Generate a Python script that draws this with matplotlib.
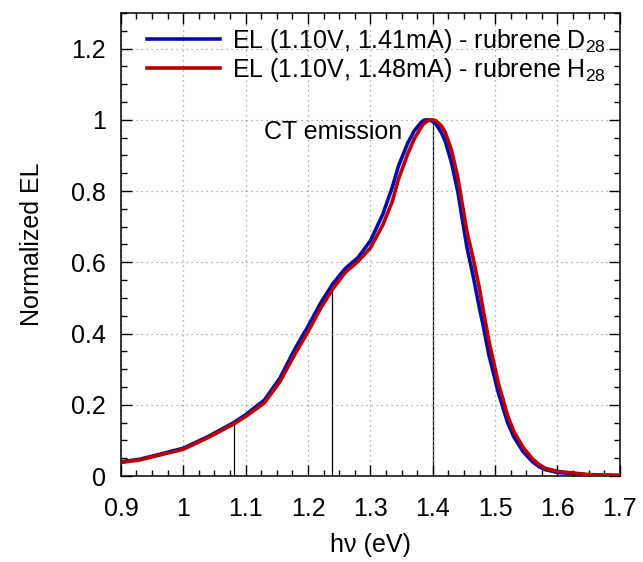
import matplotlib
matplotlib.use('Agg')
import matplotlib.pyplot as plt
from matplotlib.ticker import MultipleLocator

plt.rcParams['font.family'] = ['Liberation Sans', 'DejaVu Sans']
plt.rcParams['mathtext.default'] = 'regular'

# photon energy (eV)
energy = [0.90, 0.93, 0.96, 1.00, 1.04, 1.08, 1.10, 1.13, 1.155, 1.18, 1.20, 1.22,
          1.24, 1.26, 1.28, 1.30, 1.32, 1.335, 1.345, 1.36, 1.37, 1.38, 1.385, 1.39,
          1.395, 1.40, 1.405, 1.41, 1.415, 1.42, 1.43, 1.44, 1.455, 1.465, 1.475, 1.48,
          1.49, 1.505, 1.52, 1.53, 1.545, 1.56, 1.57, 1.58, 1.60, 1.65, 1.70]

# normalized EL, rubrene D28
el_d28 = [0.040, 0.047, 0.060, 0.078, 0.111, 0.149, 0.172, 0.213, 0.275, 0.360, 0.420, 0.485,
          0.540, 0.583, 0.613, 0.660, 0.735, 0.810, 0.870, 0.935, 0.968, 0.990, 0.998, 1.000,
          0.999, 0.995, 0.988, 0.975, 0.960, 0.940, 0.880, 0.800, 0.640, 0.560, 0.470, 0.430,
          0.340, 0.235, 0.150, 0.110, 0.068, 0.040, 0.027, 0.018, 0.010, 0.003, 0.001]

# normalized EL, rubrene H28
el_h28 = [0.038, 0.045, 0.058, 0.075, 0.108, 0.145, 0.167, 0.205, 0.265, 0.345, 0.405, 0.470,
          0.526, 0.572, 0.602, 0.640, 0.705, 0.770, 0.833, 0.905, 0.945, 0.975, 0.988, 0.995,
          0.999, 1.000, 0.997, 0.990, 0.980, 0.965, 0.915, 0.840, 0.684, 0.610, 0.525, 0.475,
          0.380, 0.262, 0.170, 0.125, 0.080, 0.048, 0.033, 0.022, 0.013, 0.004, 0.002]

label_d28 = 'EL (1.10V, 1.41mA) - rubrene D$_{28}$'
label_h28 = 'EL (1.10V, 1.48mA) - rubrene H$_{28}$'

# marker lines
marker_x = [1.081, 1.239, 1.40]
marker_top = [0.15, 0.535, 1.0]

fig = plt.figure(figsize=(6.43, 5.62), dpi=100)
ax = fig.add_axes([0.188, 0.153, 0.776, 0.824])

ax.vlines(marker_x, 0, marker_top, color='black', lw=0.9, zorder=1)
ax.plot(energy, el_d28, color='#0a0aa8', lw=2.6, label=label_d28, zorder=3)
ax.plot(energy, el_h28, color='#b80000', lw=2.6, label=label_h28, zorder=4)

ax.text(1.13, 0.966, 'CT emission', fontsize=18, ha='left', va='center')

ax.set_xlim(0.9, 1.7)
ax.set_ylim(0, 1.3)
ax.xaxis.set_minor_locator(MultipleLocator(0.025))
ax.yaxis.set_minor_locator(MultipleLocator(0.05))
ax.set_xticks([0.9, 1.0, 1.1, 1.2, 1.3, 1.4, 1.5, 1.6, 1.7])
ax.set_xticklabels(['0.9', '1', '1.1', '1.2', '1.3', '1.4', '1.5', '1.6', '1.7'])
ax.set_yticks([0, 0.2, 0.4, 0.6, 0.8, 1.0, 1.2])
ax.set_yticklabels(['0', '0.2', '0.4', '0.6', '0.8', '1', '1.2'])

ax.tick_params(which='both', direction='in', top=True, right=True, labelsize=18, width=1)
ax.tick_params(which='major', length=8)
ax.tick_params(which='minor', length=4.5)
ax.tick_params(axis='x', which='major', pad=15)
ax.tick_params(axis='y', which='major', pad=11)
ax.grid(True, which='major', linestyle=(0, (1, 3)), color='#999999', lw=0.9)
for s in ax.spines.values():
    s.set_linewidth(1.1)

ax.set_xlabel('h\u03bd (eV)', fontsize=18, labelpad=9)
ax.set_ylabel('Normalized EL', fontsize=18, labelpad=19)

ax.legend(loc='upper left', frameon=False, fontsize=18, handlelength=2.9,
          handletextpad=0.5, labelspacing=0.05, borderaxespad=0.15,
          bbox_to_anchor=(0.025, 1.0))

fig.savefig('out.png', dpi=100)
